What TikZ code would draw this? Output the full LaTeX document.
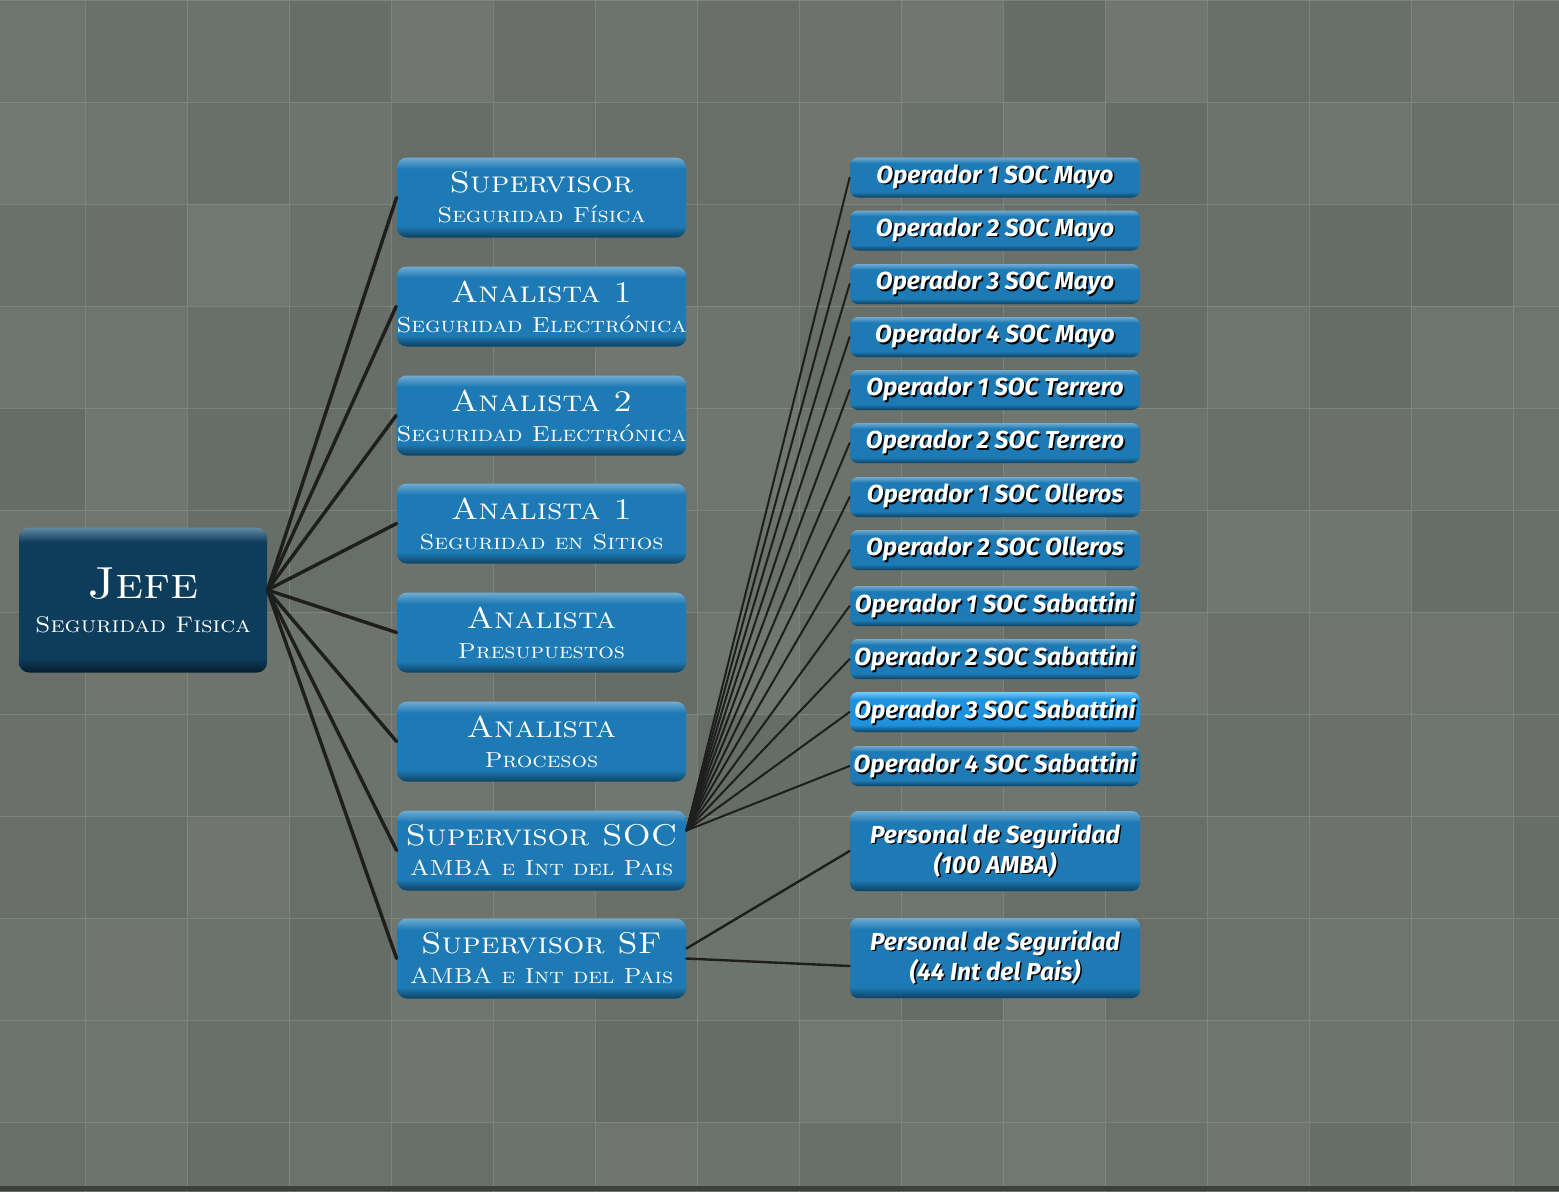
\documentclass[tikz,border=0pt]{standalone}
\usepackage{fontspec}
\newfontfamily\OpFont{Fira Sans}
\newfontfamily\CapFont{lmromancaps10-regular.otf}[FakeStretch=1.12]
\usepackage{tikz}
\usepackage{xcolor}
\definecolor{ColBg}{RGB}{102,108,102}
\definecolor{ColTile}{RGB}{132,139,131}
\definecolor{ColGrid}{RGB}{138,145,137}
\definecolor{ColEdge}{RGB}{30,30,30}
\definecolor{ColBox}{RGB}{30,122,180}
\definecolor{ColBoxTop}{RGB}{112,172,212}
\definecolor{ColBoxLow}{RGB}{12,66,100}
\definecolor{ColBoss}{RGB}{14,61,92}
\definecolor{ColBossTop}{RGB}{100,138,162}
\definecolor{ColBossLow}{RGB}{4,30,46}
\definecolor{ColLit}{RGB}{30,146,222}
\definecolor{ColLitTop}{RGB}{112,206,250}
% flat body, bright top rim, dark bottom rim
\pgfdeclareverticalshading{BoxShade}{100bp}{color(0bp)=(ColBoxLow);color(25bp)=(ColBoxLow);
  color(32bp)=(ColBox);color(68bp)=(ColBox);color(75bp)=(ColBoxTop);color(100bp)=(ColBoxTop)}
\pgfdeclareverticalshading{LitShade}{100bp}{color(0bp)=(ColBoxLow);color(25bp)=(ColBoxLow);
  color(34bp)=(ColLit);color(66bp)=(ColLit);color(75bp)=(ColLitTop);color(100bp)=(ColLitTop)}
\pgfdeclareverticalshading{BossShade}{100bp}{color(0bp)=(ColBossLow);color(25bp)=(ColBossLow);
  color(30bp)=(ColBoss);color(70bp)=(ColBoss);color(75bp)=(ColBossTop);color(100bp)=(ColBossTop)}
\tikzstyle{BossBox}=[rounded corners=5pt,shade,shading=BossShade,minimum width=124pt,
minimum height=72.5pt,text=white,align=center,inner sep=0pt,font=\CapFont\fontsize{13}{17}\selectfont]
\tikzstyle{RoleBox}=[rounded corners=5pt,shade,shading=BoxShade,minimum width=144.5pt,
minimum height=40pt,text=white,align=center,inner sep=0pt,font=\CapFont\fontsize{15}{15}\selectfont]
\tikzstyle{OpBox}=[rounded corners=4pt,shade,shading=BoxShade,minimum width=145pt,minimum height=20pt,
text=white,align=center,inner sep=0pt,font=\OpFont\bfseries\itshape\fontsize{12.3}{13}\selectfont]
\tikzstyle{OpLit}=[OpBox,shading=LitShade]
\tikzstyle{StaffBox}=[OpBox,minimum height=40pt]
\tikzstyle{BossEdge}=[ColEdge,line width=1.7pt,line cap=round]
\tikzstyle{SocEdge}=[ColEdge,line width=1pt,line cap=round]
\tikzstyle{SfEdge}=[ColEdge,line width=1.2pt,line cap=round]
\newcommand\Shd[1]{\makebox[0pt][l]{\hspace{.8pt}\raisebox{-.8pt}{\color{black}#1}}#1}
\newcommand\Sub[1]{{\fontsize{10.9}{11}\selectfont#1}}

\begin{document}
\begin{tikzpicture}[x=.5pt,y=-.5pt]
        \useasboundingbox(0,0)rectangle(1559,1191);
        % tiled backdrop
        \fill[ColBg](0,0)rectangle(1559,1191);
        \pgfmathsetseed{11}
        \foreach \c in {0,...,15}{\foreach \r in {0,...,11}{
            \pgfmathsetmacro\t{int(40*rnd)}
            \filldraw[fill=ColTile!\t!ColBg,draw=ColGrid,draw opacity=.6,line width=.5pt](-17+102*\c,102*\r)rectangle+(102,102);}}
        \fill[ColBg!60!black](0,1186)rectangle(1559,1191);
        % boxes
        \node[BossBox](jefe)at(143,600){{\fontsize{22.5}{26}\selectfont Jefe}\\{\fontsize{11.3}{11}\selectfont Seguridad Fisica}};
        \node[RoleBox](sup)at(541.5,197.5){Supervisor\\\Sub{Seguridad Física}};
        \node[RoleBox](an1)at(541.5,306.5){Analista 1\\\Sub{Seguridad Electrónica}};
        \node[RoleBox](an2)at(541.5,415.5){Analista 2\\\Sub{Seguridad Electrónica}};
        \node[RoleBox](an3)at(541.5,523.5){Analista 1\\\Sub{Seguridad en Sitios}};
        \node[RoleBox](pre)at(541.5,632.5){Analista\\\Sub{Presupuestos}};
        \node[RoleBox](pro)at(541.5,741.5){Analista\\\Sub{Procesos}};
        \node[RoleBox](soc)at(541.5,850.5){Supervisor SOC\\\Sub{AMBA e Int del Pais}};
        \node[RoleBox](sf)at(541.5,958.5){Supervisor SF\\\Sub{AMBA e Int del Pais}};
        \node[OpBox](o1)at(995,177.5){\Shd{Operador 1 SOC Mayo}};
        \node[OpBox](o2)at(995,230.5){\Shd{Operador 2 SOC Mayo}};
        \node[OpBox](o3)at(995,284){\Shd{Operador 3 SOC Mayo}};
        \node[OpBox](o4)at(995,337){\Shd{Operador 4 SOC Mayo}};
        \node[OpBox](o5)at(995,390){\Shd{Operador 1 SOC Terrero}};
        \node[OpBox](o6)at(995,443){\Shd{Operador 2 SOC Terrero}};
        \node[OpBox](o7)at(995,497){\Shd{Operador 1 SOC Olleros}};
        \node[OpBox](o8)at(995,550){\Shd{Operador 2 SOC Olleros}};
        \node[OpBox](o9)at(995,606){\Shd{Operador 1 SOC Sabattini}};
        \node[OpBox](o10)at(995,659){\Shd{Operador 2 SOC Sabattini}};
        \node[OpLit](o11)at(995,712){\Shd{Operador 3 SOC Sabattini}};
        \node[OpBox](o12)at(995,766){\Shd{Operador 4 SOC Sabattini}};
        \node[StaffBox](p1)at(995,851){\Shd{Personal de Seguridad}\\\Shd{(100 AMBA)}};
        \node[StaffBox](p2)at(995,958){\Shd{Personal de Seguridad}\\\Shd{(44 Int del Pais)}};
        % links
        \coordinate(jh)at([yshift=5pt]jefe.east);
        \coordinate(sh)at([yshift=10pt]soc.east);
        \draw[BossEdge](jh)--(sup.west);
        \draw[BossEdge](jh)--(an1.west);
        \draw[BossEdge](jh)--(an2.west);
        \draw[BossEdge](jh)--(an3.west);
        \draw[BossEdge](jh)--(pre.west);
        \draw[BossEdge](jh)--(pro.west);
        \draw[BossEdge](jh)--(soc.west);
        \draw[BossEdge](jh)--(sf.west);
        \draw[SocEdge](sh)--(o1.west);
        \draw[SocEdge](sh)--(o2.west);
        \draw[SocEdge](sh)--(o3.west);
        \draw[SocEdge](sh)--(o4.west);
        \draw[SocEdge](sh)--(o5.west);
        \draw[SocEdge](sh)--(o6.west);
        \draw[SocEdge](sh)--(o7.west);
        \draw[SocEdge](sh)--(o8.west);
        \draw[SocEdge](sh)--(o9.west);
        \draw[SocEdge](sh)--(o10.west);
        \draw[SocEdge](sh)--(o11.west);
        \draw[SocEdge](sh)--(o12.west);
        \draw[SfEdge]([yshift=5pt]sf.east)--(p1.west);
        \draw[SfEdge](sf.east)--([yshift=-4pt]p2.west);
    \end{tikzpicture}
\end{document}
